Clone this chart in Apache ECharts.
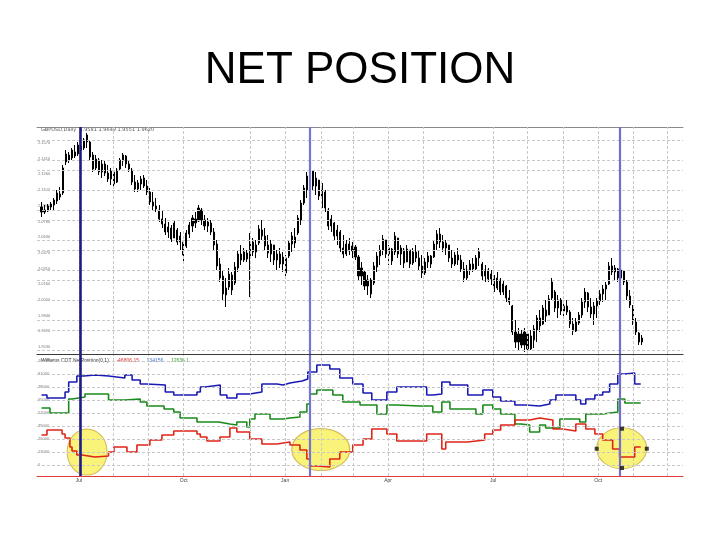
<!DOCTYPE html>
<html><head><meta charset="utf-8">
<script src="https://cdn.jsdelivr.net/npm/echarts@6/dist/echarts.min.js"></script>
<style>html,body{margin:0;background:#fff}#c{width:720px;height:540px}</style>
</head><body><div id="c"></div>
<script>
// ---- price bars: [open, close, low, high], one per trading bar starting at bar 1
const firstBar = 1;
const priceOHLC = [
[2.088,2.093,2.083,2.098],[2.090,2.088,2.086,2.095],[2.089,2.094,2.088,2.096],[2.093,2.096,2.090,2.098],[2.095,2.100,2.090,2.102],
[2.099,2.107,2.096,2.110],[2.106,2.103,2.100,2.113],[2.107,2.132,2.105,2.135],[2.138,2.146,2.135,2.150],[2.145,2.140,2.137,2.148],
[2.142,2.150,2.140,2.152],[2.148,2.144,2.142,2.155],[2.146,2.155,2.144,2.158],[2.154,2.150,2.148,2.160],[2.152,2.160,2.150,2.162],
[2.158,2.165,2.152,2.167],[2.158,2.143,2.140,2.160],[2.145,2.131,2.128,2.148],[2.132,2.141,2.130,2.145],[2.140,2.128,2.125,2.142],
[2.128,2.136,2.122,2.140],[2.136,2.127,2.124,2.140],[2.127,2.121,2.118,2.135],[2.121,2.129,2.115,2.132],[2.128,2.116,2.113,2.130],
[2.118,2.130,2.117,2.132],[2.131,2.140,2.130,2.142],[2.139,2.145,2.134,2.147],[2.144,2.136,2.132,2.145],[2.136,2.131,2.128,2.140],
[2.130,2.118,2.115,2.132],[2.118,2.111,2.108,2.125],[2.111,2.117,2.108,2.120],[2.116,2.121,2.110,2.124],[2.122,2.114,2.112,2.125],
[2.114,2.108,2.105,2.120],[2.108,2.098,2.095,2.112],[2.098,2.094,2.090,2.108],[2.094,2.091,2.088,2.102],[2.090,2.081,2.078,2.095],
[2.081,2.076,2.072,2.090],[2.076,2.068,2.065,2.082],[2.068,2.073,2.062,2.078],[2.072,2.061,2.058,2.075],[2.062,2.077,2.064,2.080],
[2.070,2.058,2.055,2.072],[2.058,2.064,2.050,2.068],[2.058,2.045,2.038,2.060],[2.054,2.067,2.052,2.070],[2.066,2.075,2.062,2.078],
[2.074,2.082,2.068,2.085],[2.081,2.077,2.072,2.088],[2.079,2.092,2.078,2.095],[2.090,2.080,2.075,2.092],[2.080,2.074,2.070,2.085],
[2.074,2.078,2.068,2.082],[2.077,2.068,2.065,2.080],[2.068,2.055,2.050,2.072],[2.056,2.034,2.030,2.060],[2.036,2.022,2.018,2.042],
[2.024,2.006,2.000,2.030],[2.005,2.012,1.993,2.022],[2.013,2.026,2.010,2.032],[2.025,2.010,2.005,2.028],[2.017,2.033,2.015,2.038],
[2.032,2.046,2.028,2.050],[2.046,2.040,2.035,2.055],[2.040,2.048,2.038,2.052],[2.047,2.041,2.038,2.050],[2.042,2.058,2.003,2.067],
[2.058,2.048,2.044,2.062],[2.048,2.055,2.042,2.060],[2.057,2.071,2.055,2.075],[2.070,2.064,2.060,2.080],[2.064,2.054,2.050,2.072],
[2.055,2.047,2.042,2.065],[2.046,2.056,2.038,2.060],[2.055,2.040,2.035,2.055],[2.040,2.046,2.030,2.050],[2.046,2.036,2.032,2.052],
[2.036,2.043,2.028,2.048],[2.042,2.027,2.023,2.045],[2.044,2.057,2.042,2.060],[2.056,2.064,2.048,2.068],[2.063,2.057,2.052,2.072],
[2.067,2.082,2.065,2.085],[2.080,2.097,2.075,2.100],[2.097,2.112,2.095,2.115],[2.110,2.124,2.102,2.128],[2.124,2.130,2.115,2.135],
[2.129,2.114,2.110,2.130],[2.114,2.122,2.105,2.128],[2.120,2.104,2.100,2.120],[2.104,2.110,2.092,2.117],[2.108,2.092,2.088,2.110],
[2.090,2.074,2.070,2.092],[2.074,2.081,2.068,2.085],[2.077,2.064,2.060,2.078],[2.064,2.070,2.055,2.075],[2.068,2.052,2.048,2.070],
[2.052,2.046,2.042,2.065],[2.046,2.056,2.044,2.060],[2.056,2.049,2.045,2.062],[2.049,2.054,2.042,2.058],[2.053,2.043,2.040,2.055],
[2.043,2.024,2.020,2.045],[2.024,2.032,2.015,2.038],[2.028,2.014,2.010,2.030],[2.014,2.020,2.005,2.025],[2.020,2.006,2.002,2.022],
[2.017,2.034,2.015,2.038],[2.033,2.044,2.028,2.048],[2.044,2.050,2.035,2.055],[2.050,2.061,2.045,2.065],[2.060,2.046,2.042,2.060],
[2.046,2.052,2.035,2.055],[2.051,2.039,2.035,2.052],[2.048,2.064,2.045,2.068],[2.062,2.046,2.042,2.062],[2.046,2.052,2.035,2.055],
[2.050,2.037,2.032,2.052],[2.038,2.051,2.038,2.055],[2.050,2.036,2.032,2.050],[2.037,2.048,2.035,2.052],[2.048,2.042,2.038,2.055],
[2.042,2.034,2.030,2.050],[2.034,2.027,2.022,2.045],[2.027,2.038,2.025,2.042],[2.038,2.044,2.032,2.048],[2.044,2.036,2.032,2.045],
[2.043,2.056,2.042,2.060],[2.056,2.066,2.050,2.070],[2.066,2.058,2.052,2.072],[2.058,2.052,2.048,2.065],[2.052,2.057,2.045,2.060],
[2.055,2.042,2.038,2.055],[2.042,2.036,2.032,2.050],[2.036,2.045,2.034,2.048],[2.045,2.040,2.035,2.052],[2.040,2.031,2.028,2.045],
[2.031,2.022,2.018,2.038],[2.022,2.030,2.020,2.035],[2.030,2.036,2.025,2.040],[2.036,2.031,2.028,2.042],[2.031,2.042,2.030,2.045],
[2.042,2.048,2.034,2.052],[2.036,2.024,2.020,2.038],[2.024,2.030,2.018,2.035],[2.030,2.021,2.018,2.032],[2.021,2.026,2.015,2.030],
[2.024,2.012,2.008,2.025],[2.012,2.022,2.010,2.028],[2.020,2.008,2.005,2.022],[2.008,2.016,2.005,2.020],[2.014,2.002,1.998,2.015],
[2.002,1.998,1.995,2.010],[1.994,1.968,1.965,1.995],[1.968,1.958,1.952,1.980],[1.958,1.966,1.950,1.972],[1.966,1.955,1.952,1.970],
[1.955,1.968,1.948,1.972],[1.966,1.951,1.948,1.968],[1.951,1.964,1.950,1.970],[1.960,1.971,1.952,1.975],[1.970,1.982,1.958,1.985],
[1.982,1.974,1.968,1.990],[1.976,1.992,1.975,1.995],[1.990,1.984,1.978,2.000],[1.985,2.001,1.985,2.005],[2.002,2.018,2.000,2.022],
[2.008,1.992,1.988,2.010],[1.992,2.000,1.982,2.005],[2.000,1.989,1.985,2.002],[1.989,1.994,1.982,1.998],[1.994,1.988,1.985,2.000],
[1.988,1.976,1.972,1.990],[1.976,1.969,1.965,1.982],[1.969,1.978,1.968,1.982],[1.977,1.985,1.975,1.988],[1.985,1.998,1.982,2.002],
[1.998,2.008,1.992,2.012],[2.007,1.993,1.988,2.008],[1.993,1.986,1.982,2.002],[1.986,1.994,1.975,1.998],[1.994,1.999,1.982,2.002],
[1.999,2.006,1.995,2.010],[2.006,2.011,1.998,2.015],[2.011,2.015,2.000,2.018],[2.016,2.034,2.015,2.038],[2.034,2.028,2.025,2.042],
[2.028,2.032,2.020,2.035],[2.031,2.022,2.018,2.032],[2.022,2.030,2.020,2.035],[2.029,2.018,2.015,2.030],[2.018,2.004,2.000,2.020],
[2.004,1.995,1.992,2.010],[1.994,1.978,1.975,1.995],[1.978,1.968,1.965,1.982],[1.967,1.958,1.955,1.968],[1.958,1.962,1.955,1.965]
];
const priceGrid = [1.953,1.969,1.984,2.000,2.016,2.031,2.047,2.063,2.078,2.094,2.110,2.126,2.141,2.157];

// ---- net position step lines: [bar, value]
const netBlue = [[1,70],[2.8,67],[8.8,73],[10,83],[12.7,89],[15,90],[18.8,89],[23.2,87],[28.6,90],[31,85],[33.7,81],[35.9,80],
[42,73],[44.8,70],[52.5,73],[53.6,78],[55.2,80],[60.2,70],[62.4,67],[65.7,71],[70,73],[74,81],[79,80],[81,82],[83.3,84],
[87.3,86],[89.2,93],[92.2,100],[96.5,96],[99.8,87],[104.1,81],[107.5,72],[110.4,65],[115.4,73],[118.7,78],[128.6,70],[130.6,71],
[133.6,83],[136.3,80],[142.2,70],[147.2,75],[150.5,68],[153.1,64],[157.8,60],[161.4,59],[166,61],[169.4,65],[171.4,70],
[178,65],[179.6,61],[181.3,66],[184.3,70],[186.9,73],[189.2,81],[191.9,91],[194.2,92],[197.5,81],[199.5,81]];
const netGreen = [[1,57],[3.8,52],[10,66],[11.1,68],[15.4,71],[23.2,65],[28.6,66],[33.7,63],[35.9,59],[41.6,56],[44.8,53],
[46.9,47],[52.5,43],[59.7,41],[63.4,40],[65.7,43],[69,38],[70,46],[71.7,51],[76.7,46],[81,47],[83.3,48],[86.6,53],[88.9,61],
[89.9,71],[92.2,75],[97.5,70],[100.8,63],[106.5,60],[112.1,51],[115.4,60],[118.7,59],[126.3,59],[130.6,53],[133.6,63],
[136.3,56],[144.9,51],[147.2,60],[150.5,56],[153.1,51],[157.8,41],[159.8,40],[162.7,33],[166,40],[168,37],[172.7,46],
[179.3,43],[181.3,51],[186.9,53],[191.9,66],[194.2,62],[199.5,62]];
const netRed = [[1,30],[2.8,35],[7.8,31],[8.8,27],[10.4,18],[11.1,14],[12.7,10],[14.4,8],[18.7,9],[23.2,13],[25,18],[29.3,13],
[32.6,20],[36.9,25],[40.9,30],[44.8,34],[52.5,31],[53.6,28],[55.8,24],[60.1,28],[63.4,37],[65.7,33],[70,26],[74,21],[79,23],
[83.3,20],[86.6,15],[88.9,6],[89.9,-1],[92.2,-2],[96.5,6],[99.8,13],[104.1,20],[107.5,26],[110.4,36],[115.4,31],[118.7,24],
[128.6,31],[133.6,16],[134.9,23],[142.2,25],[147.8,31],[150.5,35],[153.1,40],[157.8,45],[162.7,47],[166,45],[170.4,36],
[173.7,34],[178,41],[181.3,36],[184.3,31],[186.9,25],[190.2,16],[192.5,8],[197.5,18],[199.5,18]];
const netGrid = [0,13,26,39,52,65,78,91,104];

// ---- time axis
const monthGrid = [13.4,24.9,36.5,48.1,70.1,81.7,93.8,104.2,115.8,127.4,150.6,162.0,173.8,185.4,197.1,208.2];
const quarterTicks = [13.4,48.1,81.7,115.8,150.6,185.4];
const quarterLabels = ['Jul','Oct','Jan','Apr','Jul','Oct'];

// ---- annotations
const signalBars = [13.7, 89.9, 192.5];
const highlightCenters = [[16.1,13],[93.5,15.5],[193.2,16.7]];
const handlePoints = [[184.9,16.3],[201.5,16.3],[193.3,36.3],[193.3,-3]];

// ---- styles
const ellipseSizes = [[40,46],[58,42],[50,41]];
const signalColors = ['#1c1c88','#7474d2','#7070cc'];
const signalWidths = [2.6,2.2,2.2];
const gridStyle = {color:'#c8c8c8', type:[3,2], width:1};

const chart = echarts.init(document.getElementById('c'), null, {renderer:'canvas'});
const xCommon = {type:'value', min:-0.5, max:213.5, splitLine:{show:false}, axisTick:{show:false}};
const gridMarks = (ys) => ({
  silent:true, symbol:['none','none'], label:{show:false}, lineStyle:gridStyle, animation:false,
  data: ys.map(v=>({yAxis:v})).concat(monthGrid.map(v=>({xAxis:v})))
});
const signalMarks = {
  silent:true, symbol:['none','none'], label:{show:false}, animation:false,
  data: signalBars.map((v,k)=>({xAxis:v, lineStyle:{color:signalColors[k], width:signalWidths[k], type:'solid'}}))
};
const stepLine = (data,color) => ({type:'line', xAxisIndex:2, yAxisIndex:1, data, step:'end', symbol:'none',
  lineStyle:{color, width:1.6}, z:4, animation:false});

chart.setOption({
  animation:false,
  title:{text:'NET POSITION', left:'center', top:44,
    textStyle:{fontFamily:'Liberation Sans, Arial, sans-serif', fontSize:44, fontWeight:'normal', color:'#000'}},
  graphic:[
    {type:'text', left:41, top:127, style:{text:'GBPUSD,Daily  1.9581 1.9649 1.9551 1.9620', fontSize:5, fill:'#555', fontFamily:'DejaVu Sans'}},
    {type:'text', left:41, top:355, style:{
      text:'{k|Williams COT NetPosition(0,1)}  {r|-46806.15}  {b|134156}  {g|12636.1}',
      rich:{k:{fill:'#333',fontSize:5},r:{fill:'#e03030',fontSize:5},b:{fill:'#3d6fd0',fontSize:5},g:{fill:'#2a9a2a',fontSize:5}},
      fontFamily:'DejaVu Sans'}}
  ],
  grid:[
    {left:37, right:37, top:127, height:227},
    {left:37, right:37, top:355, height:121}
  ],
  xAxis:[
    Object.assign({}, xCommon, {gridIndex:0, axisLine:{show:true, lineStyle:{color:'#3a3a3a', width:1}}, axisLabel:{show:false}}),
    Object.assign({}, xCommon, {gridIndex:0, position:'top', axisLine:{show:true, lineStyle:{color:'#8a8a8a', width:1}}, axisLabel:{show:false}}),
    Object.assign({}, xCommon, {gridIndex:1, axisLine:{show:true, onZero:false, lineStyle:{color:'#e03a3a', width:1}},
      axisLabel:{show:true, customValues:quarterTicks, fontSize:5, color:'#444', margin:2,
        formatter:(v)=>{let b=0;quarterTicks.forEach((t,k)=>{if(Math.abs(t-v)<Math.abs(quarterTicks[b]-v))b=k;});return quarterLabels[b];}}})
  ],
  yAxis:[
    {gridIndex:0, type:'value', min:1.946, max:2.173, splitLine:{show:false}, axisLine:{show:false}, axisTick:{show:false},
     axisLabel:{inside:true, customValues:priceGrid, fontSize:4, color:'#777', margin:1, formatter:(v)=>v.toFixed(4)}},
    {gridIndex:1, type:'value', min:-11, max:110, splitLine:{show:false}, axisLine:{show:false}, axisTick:{show:false},
     axisLabel:{inside:true, customValues:netGrid, fontSize:4, color:'#777', margin:1, formatter:(v)=>String(v*1000)}}
  ],
  series:[
    {type:'line', xAxisIndex:0, yAxisIndex:0, data:[], z:0, markLine:gridMarks(priceGrid)},
    {type:'line', xAxisIndex:2, yAxisIndex:1, data:[], z:0, markLine:gridMarks(netGrid)},
    {type:'candlestick', xAxisIndex:0, yAxisIndex:0, barWidth:1.6, z:3,
     data: priceOHLC.map((d,k)=>[k+firstBar, d[0], d[1], d[2], d[3]]),
     encode:{x:0, y:[1,2,3,4]},
     itemStyle:{color:'#000', color0:'#000', borderColor:'#000', borderColor0:'#000', borderWidth:1}},
    {type:'scatter', xAxisIndex:2, yAxisIndex:1, z:2, silent:true,
     data: highlightCenters.map((c,k)=>({value:c, symbolSize:ellipseSizes[k]})),
     symbol:'circle', itemStyle:{color:'rgba(246,238,70,0.9)', borderColor:'#c9a636', borderWidth:1}},
    stepLine(netBlue,'#1a1ab4'),
    stepLine(netGreen,'#1a8a1a'),
    stepLine(netRed,'#e02418'),
    {type:'scatter', xAxisIndex:2, yAxisIndex:1, z:6, silent:true, data:handlePoints, symbol:'rect', symbolSize:4,
     itemStyle:{color:'#111'}},
    {type:'line', xAxisIndex:0, yAxisIndex:0, data:[], z:5, markLine:signalMarks},
    {type:'line', xAxisIndex:2, yAxisIndex:1, data:[], z:5, markLine:signalMarks}
  ]
});
</script></body></html>
